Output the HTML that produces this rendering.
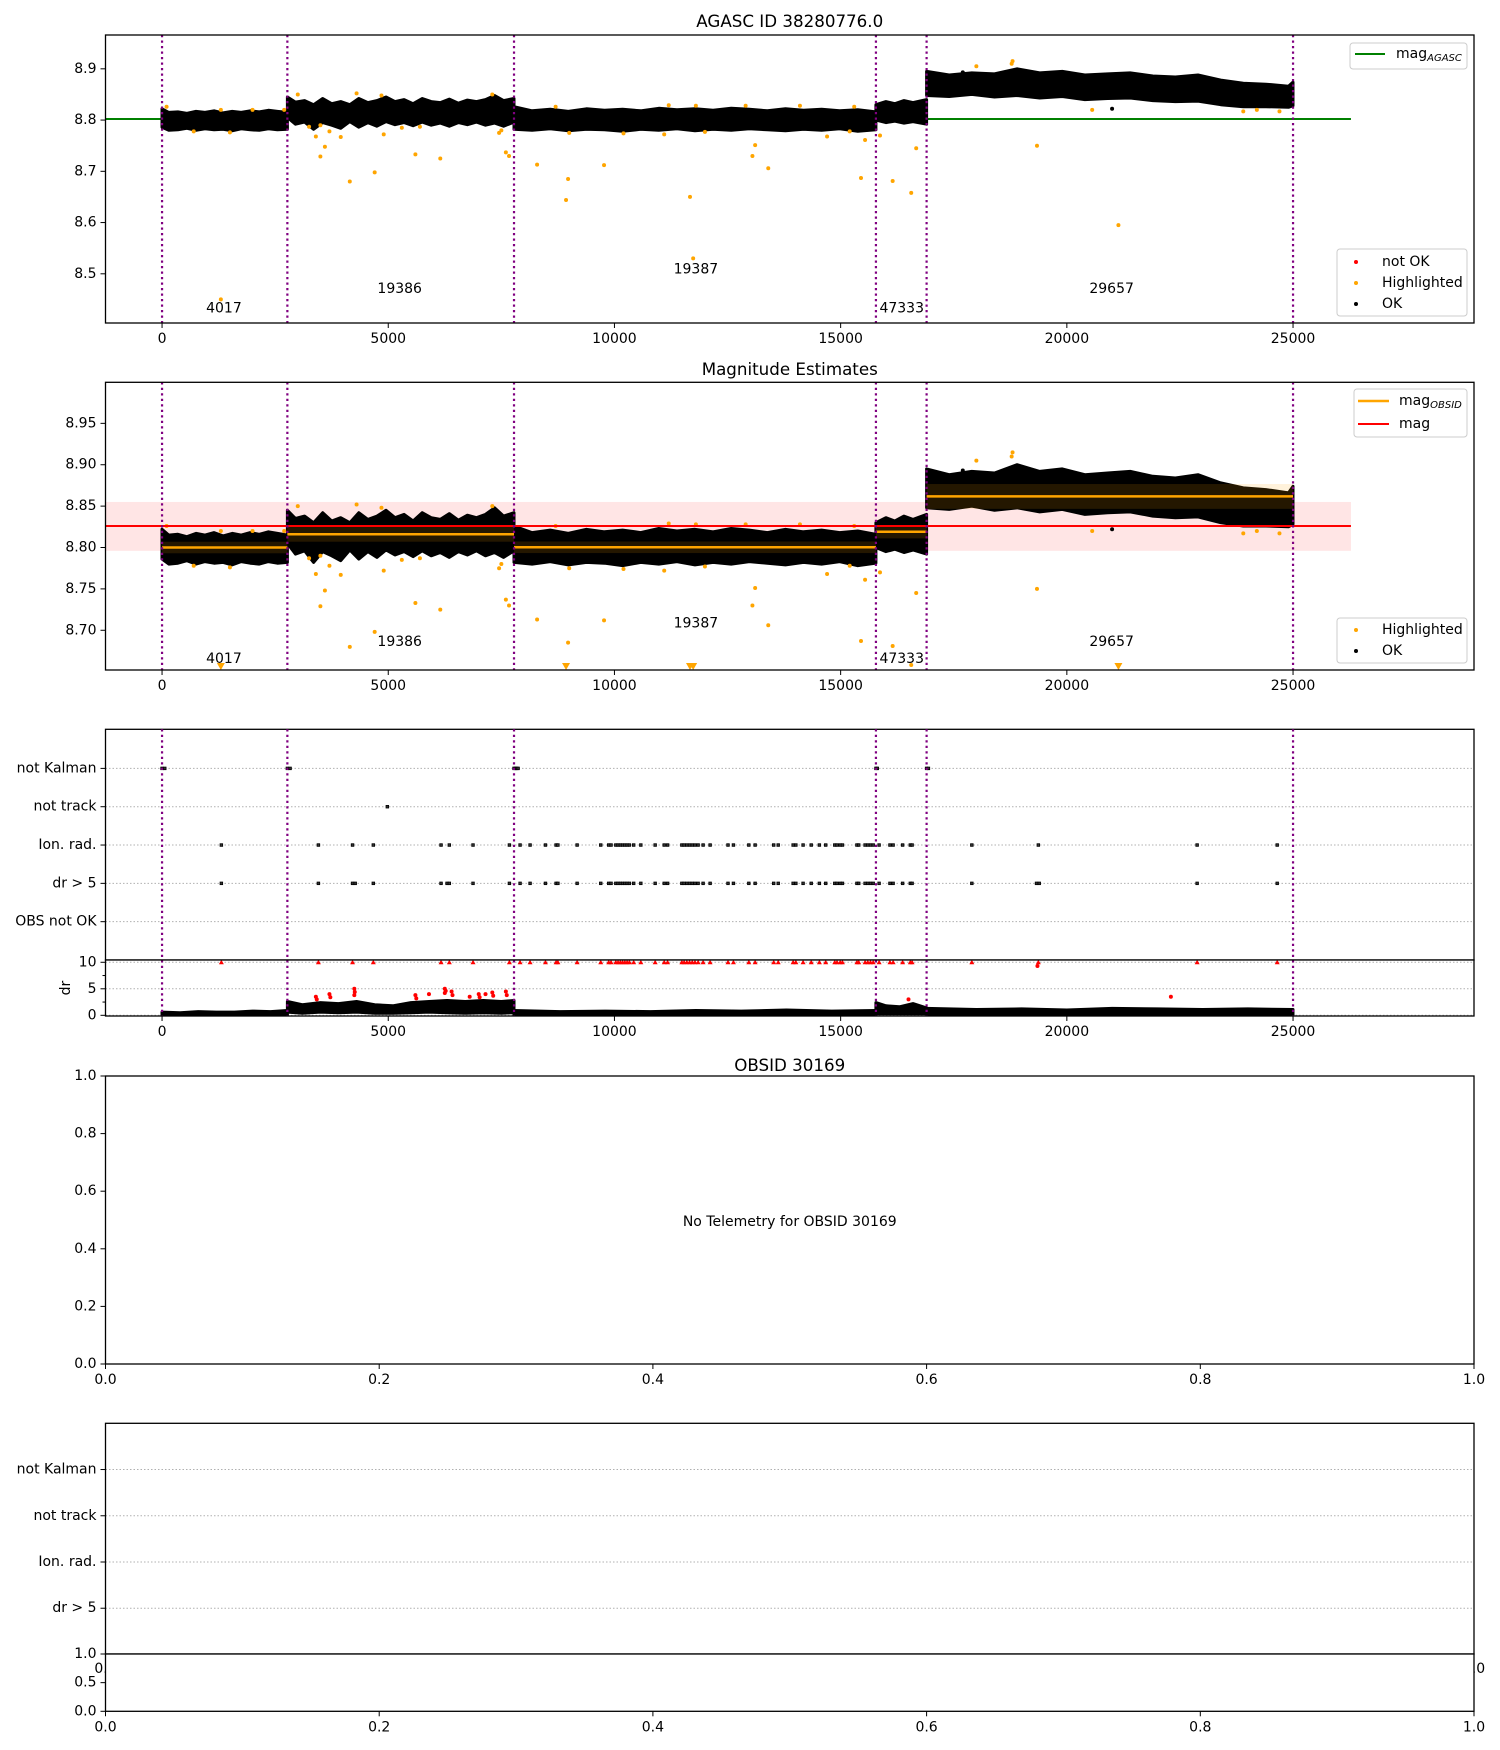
<!DOCTYPE html>
<html><head><meta charset="utf-8">
<style>
html,body{margin:0;padding:0;background:#fff;}
svg{display:block;font-family:"DejaVu Sans","Liberation Sans",sans-serif;}
</style></head>
<body>
<svg id="fig" xmlns="http://www.w3.org/2000/svg" width="1500" height="1750" viewBox="0 0 1500 1750"></svg>
<script>
// ---------------- DATA ----------------
const obsBoundaries = [0, 2770, 7780, 15780, 16900, 25000];
const obsIds = ["4017","19386","19387","47333","29657"];
const obsLabelT = [1368, 5253, 11800, 16350, 20990];
const obsLabelMag1 = [8.432, 8.470, 8.508, 8.432, 8.470];
const obsLabelMag2 = [8.665, 8.686, 8.708, 8.665, 8.686];
const magAgasc = 8.802;
const magMean = 8.826;
const magBandLo = 8.796;
const magBandHi = 8.855;
const magObsid = [8.800, 8.816, 8.8003, 8.819, 8.8617];
const magObsidStd = [0.007, 0.009, 0.007, 0.008, 0.015];
const lineEndT = 26280;

const seg1T = [0,150,350,550,750,950,1150,1350,1550,1750,1950,2150,2350,2550,2770];
const seg1Hi = [8.822,8.815,8.816,8.813,8.817,8.815,8.818,8.814,8.817,8.815,8.818,8.816,8.819,8.817,8.815];
const seg1Lo = [8.786,8.780,8.781,8.784,8.780,8.783,8.781,8.782,8.779,8.783,8.781,8.780,8.783,8.781,8.782];
const seg2T = [2770,2950,3150,3350,3550,3750,3950,4150,4350,4550,4750,4950,5150,5350,5550,5750,5950,6150,6350,6550,6750,6950,7150,7350,7550,7780];
const seg2Hi = [8.845,8.835,8.838,8.830,8.842,8.832,8.836,8.830,8.842,8.834,8.838,8.845,8.836,8.840,8.832,8.842,8.836,8.834,8.841,8.833,8.839,8.836,8.840,8.848,8.838,8.842];
const seg2Lo = [8.805,8.792,8.796,8.782,8.795,8.790,8.784,8.797,8.786,8.795,8.788,8.797,8.791,8.795,8.789,8.796,8.790,8.794,8.788,8.795,8.791,8.796,8.790,8.794,8.788,8.796];
const seg3T = [7780,8180,8580,8980,9380,9780,10180,10580,10980,11380,11780,12180,12580,12980,13380,13780,14180,14580,14980,15380,15780];
const seg3Hi = [8.826,8.818,8.821,8.817,8.822,8.819,8.821,8.818,8.823,8.820,8.822,8.819,8.823,8.821,8.818,8.822,8.819,8.821,8.818,8.820,8.816];
const seg3Lo = [8.782,8.780,8.783,8.779,8.782,8.781,8.778,8.782,8.780,8.783,8.779,8.782,8.780,8.783,8.781,8.779,8.782,8.780,8.783,8.778,8.781];
const seg4T = [15780,16000,16200,16400,16600,16900];
const seg4Hi = [8.830,8.836,8.832,8.838,8.834,8.840];
const seg4Lo = [8.800,8.795,8.798,8.794,8.797,8.792];
const seg5T = [16900,17400,17900,18400,18900,19400,19900,20400,20900,21400,21900,22400,22900,23400,23900,24400,24900,25000];
const seg5Hi = [8.895,8.888,8.892,8.890,8.900,8.892,8.895,8.888,8.890,8.892,8.886,8.884,8.888,8.878,8.872,8.870,8.866,8.874];
const seg5Lo = [8.848,8.846,8.850,8.845,8.848,8.843,8.846,8.840,8.842,8.843,8.838,8.836,8.837,8.830,8.826,8.826,8.825,8.828];

const hiT = [100,1300,1300,2000,2700,700,1500,3000,3500,3400,3600,3500,3700,4150,4700,4900,5600,6150,3950,4300,4850,5300,5700,7300,7600,7500,3250,
 8290,8975,8930,9770,11670,11740,13050,13110,13400,15450,15540,7450,7670,16150,16560,16670,15870,19340,21140,20560,18800,
 9000,10200,11100,12000,14700,15200,11800,11200,12900,14100,15300,8700,18000,23900,24700,24200,18780];
const hiMag = [8.826,8.450,8.820,8.820,8.820,8.778,8.776,8.850,8.790,8.768,8.748,8.729,8.778,8.680,8.698,8.772,8.733,8.725,8.767,8.852,8.848,8.785,8.787,8.850,8.737,8.780,8.787,
 8.713,8.685,8.644,8.712,8.650,8.530,8.730,8.751,8.706,8.687,8.761,8.775,8.730,8.681,8.658,8.745,8.770,8.750,8.595,8.820,8.915,
 8.775,8.774,8.772,8.777,8.768,8.778,8.828,8.829,8.828,8.828,8.826,8.826,8.905,8.817,8.817,8.820,8.910];
const okT = [21000, 23700, 23800, 17700];
const okMag = [8.822, 8.858, 8.860, 8.893];

const flagCats = ["not Kalman","not track","Ion. rad.","dr > 5","OBS not OK"];
const notKalmanT = [0,60,2770,2830,7780,7810,7840,7870,15780,15810,16900,16940];
const notTrackT = [4980];
const ionRadT = [1311,3456,4211,4670,6167,6350,6874,7678,7914,8135,8475,8710,8750,9175,9697,9873,9925,10030,10080,10130,10180,10230,10280,10330,10425,10583,10900,11100,11175,11490,11540,11600,11660,11720,11780,11850,11960,12115,12510,12630,12970,13110,13520,13620,13950,14010,14170,14350,14530,14670,14870,14920,14990,15040,15360,15400,15540,15600,15660,15720,15850,16090,16160,16370,16540,16580,17900,19370,22880,24650];
const drGt5T = [1311,3456,4211,4270,4670,6167,6300,6350,6874,7678,7914,8135,8475,8710,8750,9175,9697,9873,9925,10030,10080,10130,10180,10230,10280,10330,10425,10583,10900,11100,11175,11490,11540,11600,11660,11720,11780,11850,11960,12115,12510,12630,12970,13110,13520,13620,13950,14010,14170,14350,14530,14670,14870,14920,14990,15040,15360,15400,15540,15600,15660,15720,15850,16090,16160,16370,16540,16580,17900,19330,19390,22880,24650];

const dr1T = [0,400,800,1200,1600,2000,2400,2770];
const dr1Hi = [0.6,0.5,0.7,0.6,0.6,0.8,0.7,0.9];
const dr1Lo = [0.05,0.05,0.05,0.05,0.05,0.05,0.05,0.05];
const dr2T = [2770,3100,3500,3900,4300,4700,5100,5500,5900,6300,6700,7100,7500,7780];
const dr2Hi = [2.6,2.0,2.4,2.2,2.6,2.0,1.8,2.4,2.6,2.8,2.6,2.8,2.6,2.8];
const dr2Lo = [0.6,0.4,0.6,0.5,0.6,0.4,0.4,0.5,0.6,0.5,0.4,0.5,0.4,0.5];
const dr3T = [7780,8800,9800,10800,11800,12800,13800,14800,15780];
const dr3Hi = [0.9,0.7,0.8,0.7,0.9,0.8,1.0,0.8,0.9];
const dr3Lo = [0.1,0.1,0.1,0.1,0.1,0.1,0.1,0.1,0.1];
const dr4T = [15780,16000,16300,16600,16900];
const dr4Hi = [2.4,1.8,1.6,2.2,1.4];
const dr4Lo = [0.3,0.3,0.3,0.3,0.3];
const dr5T = [16900,18000,19000,20000,21000,22000,23000,24000,25000];
const dr5Hi = [1.3,1.1,1.2,1.0,1.3,1.2,1.1,1.2,1.1];
const dr5Lo = [0.2,0.2,0.2,0.2,0.2,0.2,0.2,0.2,0.1];
const drRedT = [3400,3420,3700,3720,4250,4250,4260,5600,5620,5900,6250,6250,6270,6400,6420,6800,7000,7020,7150,7300,7320,7600,7620,16500,22300,19350];
const drRedV = [3.5,3.0,4.0,3.4,5.0,3.8,4.4,3.8,3.2,4.0,5.0,4.2,4.6,4.5,3.8,3.5,4.0,3.4,4.0,4.3,3.7,4.5,3.8,3.0,3.5,9.3];
const drRedTopT = ionRadT;

const xTicksT = [0,5000,10000,15000,20000,25000];
const p1Ticks = [8.5,8.6,8.7,8.8,8.9];
const p2Ticks = [8.70,8.75,8.80,8.85,8.90,8.95];
const drTicks = [0,5,10];
const unitTicks = [0,0.2,0.4,0.6,0.8,1.0];
const halfTicks = [0,0.5,1.0];

// ---------------- DRAWING ----------------
const NS = "http://www.w3.org/2000/svg";
const svg = document.getElementById("fig");
const L = 105.5, R = 1474, X0 = -1250, X1 = 29000;
function sx(t){ return L + (t - X0) / (X1 - X0) * (R - L); }
function lin(d0,d1,r0,r1){ return v => r0 + (v - d0) / (d1 - d0) * (r1 - r0); }

function mk(tag, attrs, name, parent){
  const el = document.createElementNS(NS, tag);
  for (const k in attrs) el.setAttribute(k, attrs[k]);
  
  
  (parent || svg).appendChild(el);
  return el;
}
function txt(x,y,s,name,opts){
  opts = opts || {};
  const el = mk("text",{x:x,y:y,"font-size":opts.size||14,"text-anchor":opts.anchor||"middle","dominant-baseline":"central",fill:"#000"},name,opts.parent);
  if (opts.rot) el.setAttribute("transform","rotate(-90 "+x+" "+y+")");
  el.textContent = s;
  return el;
}
function frame(T,B,name){
  mk("rect",{x:L,y:T,width:R-L,height:B-T,fill:"#fff",stroke:"none"},name+"-background");
}
function border(T,B,name){
  mk("rect",{x:L,y:T,width:R-L,height:B-T,fill:"none",stroke:"#000","stroke-width":1.3},name);
}
function xticks(B, ts, fx, labels, name){
  ts.forEach((t,i)=>{
    const x = fx(t);
    mk("line",{x1:x,y1:B,x2:x,y2:B+5,stroke:"#000","stroke-width":1},name+"-tick");
    txt(x,B+16,labels[i],name+"-label");
  });
}
function yticks(vals, fy, labels, name){
  vals.forEach((v,i)=>{
    const y = fy(v);
    mk("line",{x1:L-5,y1:y,x2:L,y2:y,stroke:"#000","stroke-width":1},name+"-tick");
    txt(L-9,y,labels[i],name+"-label",{anchor:"end"});
  });
}
function vlines(T,B,name){
  obsBoundaries.forEach(t=>{
    const x = sx(t);
    mk("line",{x1:x,y1:T,x2:x,y2:B,stroke:"#800080","stroke-width":2.2,"stroke-dasharray":"2.2,3.3"},name);
  });
}
function band(ts,lo,hi,fy,name,color){
  let d = "M";
  ts.forEach((t,i)=>{ d += (i?" L":"") + sx(t).toFixed(1)+","+fy(hi[i]).toFixed(1); });
  for (let i=ts.length-1;i>=0;i--) d += " L"+sx(ts[i]).toFixed(1)+","+fy(lo[i]).toFixed(1);
  d += " Z";
  mk("path",{d:d,fill:color||"#000",stroke:color||"#000","stroke-width":3,"stroke-linejoin":"round"},name);
}
const segs = [[seg1T,seg1Lo,seg1Hi],[seg2T,seg2Lo,seg2Hi],[seg3T,seg3Lo,seg3Hi],[seg4T,seg4Lo,seg4Hi],[seg5T,seg5Lo,seg5Hi]];
const drSegs = [[dr1T,dr1Lo,dr1Hi],[dr2T,dr2Lo,dr2Hi],[dr3T,dr3Lo,dr3Hi],[dr4T,dr4Lo,dr4Hi],[dr5T,dr5Lo,dr5Hi]];

// ===== Panel 1 =====
(function(){
  const T=35,B=323; const fy = lin(8.404,8.966,B,T);
  frame(T,B,"agasc-panel");
  txt((L+R)/2,21,"AGASC ID 38280776.0","agasc-title",{size:16.7});
  mk("line",{x1:L,y1:fy(magAgasc),x2:sx(lineEndT),y2:fy(magAgasc),stroke:"#008000","stroke-width":2},"mag-agasc-line");
  segs.forEach((s,i)=>band(s[0],s[1],s[2],fy,"ok-points-band-"+obsIds[i]));
  okT.forEach((t,i)=>mk("circle",{cx:sx(t),cy:fy(okMag[i]),r:2,fill:"#000"},"ok-point"));
  hiT.forEach((t,i)=>mk("circle",{cx:sx(t),cy:fy(hiMag[i]),r:2,fill:"#ffa500"},"highlighted-point"));
  vlines(T,B,"obsid-boundary");
  obsIds.forEach((s,i)=>txt(sx(obsLabelT[i]),fy(obsLabelMag1[i]),s,"obsid-label"));
  xticks(B,xTicksT,sx,xTicksT.map(String),"x-tick");
  yticks(p1Ticks,fy,p1Ticks.map(v=>v.toFixed(1)),"y-tick");
  mk("rect",{x:1350,y:43,width:117,height:26,rx:3,fill:"#fff",stroke:"#ccc","stroke-width":1},"legend-agasc-box");
  mk("line",{x1:1355,y1:54,x2:1385,y2:54,stroke:"#008000","stroke-width":2},"legend-agasc-line");
  const t1 = txt(1396,54,"mag","legend-agasc-text",{anchor:"start"});
  const sub = mk("tspan",{"font-size":10,"font-style":"italic",dy:4},"legend-agasc-subscript",t1); sub.textContent="AGASC";
  mk("rect",{x:1337,y:249,width:130,height:67,rx:3,fill:"#fff",stroke:"#ccc","stroke-width":1},"legend-points-box");
  [["not OK","#ff0000",262],["Highlighted","#ffa500",283],["OK","#000",304]].forEach(e=>{
    mk("circle",{cx:1356,cy:e[2],r:2,fill:e[1]},"legend-marker");
    txt(1382,e[2],e[0],"legend-text",{anchor:"start"});
  });
  border(T,B,"agasc-axes-frame");
})();

// ===== Panel 2 =====
(function(){
  const T=382.3,B=670; const fy = lin(8.652,8.9996,B,T);
  frame(T,B,"mag-estimates-panel");
  txt((L+R)/2,369,"Magnitude Estimates","mag-estimates-title",{size:16.7});
  mk("rect",{x:L,y:fy(magBandHi),width:sx(lineEndT)-L,height:fy(magBandLo)-fy(magBandHi),fill:"#ff0000","fill-opacity":0.1},"mag-std-band");
  segs.forEach((s,i)=>band(s[0],s[1],s[2],fy,"ok-points-band-"+obsIds[i]));
  okT.forEach((t,i)=>mk("circle",{cx:sx(t),cy:fy(okMag[i]),r:2,fill:"#000"},"ok-point"));
  segs.forEach((s,i)=>{
    const x0=sx(obsBoundaries[i]), x1=sx(obsBoundaries[i+1]);
    mk("rect",{x:x0,y:fy(magObsid[i]+magObsidStd[i]),width:x1-x0,height:fy(magObsid[i]-magObsidStd[i])-fy(magObsid[i]+magObsidStd[i]),fill:"#ffa500","fill-opacity":0.14},"mag-obsid-band");
    mk("line",{x1:x0,y1:fy(magObsid[i]),x2:x1,y2:fy(magObsid[i]),stroke:"#ffa500","stroke-width":2.5},"mag-obsid-line");
  });
  hiT.forEach((t,i)=>{
    if (hiMag[i] < 8.652){
      const x=sx(t), y=B;
      mk("path",{d:"M"+(x-4)+","+(y-7)+" L"+(x+4)+","+(y-7)+" L"+x+","+y+" Z",fill:"#ffa500"},"highlighted-offscale-marker");
    } else mk("circle",{cx:sx(t),cy:fy(hiMag[i]),r:2,fill:"#ffa500"},"highlighted-point");
  });
  mk("line",{x1:L,y1:fy(magMean),x2:sx(lineEndT),y2:fy(magMean),stroke:"#ff0000","stroke-width":2},"mag-mean-line");
  vlines(T,B,"obsid-boundary");
  obsIds.forEach((s,i)=>txt(sx(obsLabelT[i]),fy(obsLabelMag2[i]),s,"obsid-label"));
  xticks(B,xTicksT,sx,xTicksT.map(String),"x-tick");
  yticks(p2Ticks,fy,p2Ticks.map(v=>v.toFixed(2)),"y-tick");
  mk("rect",{x:1354,y:389,width:113,height:48,rx:3,fill:"#fff",stroke:"#ccc","stroke-width":1},"legend-mag-box");
  mk("line",{x1:1358,y1:401,x2:1389,y2:401,stroke:"#ffa500","stroke-width":2.5},"legend-obsid-line");
  const t1 = txt(1399,401,"mag","legend-obsid-text",{anchor:"start"});
  const sub = mk("tspan",{"font-size":10,"font-style":"italic",dy:4},"legend-obsid-subscript",t1); sub.textContent="OBSID";
  mk("line",{x1:1358,y1:424,x2:1389,y2:424,stroke:"#ff0000","stroke-width":2},"legend-mag-line");
  txt(1399,424,"mag","legend-mag-text",{anchor:"start"});
  mk("rect",{x:1337,y:618,width:130,height:45,rx:3,fill:"#fff",stroke:"#ccc","stroke-width":1},"legend-points-box");
  [["Highlighted","#ffa500",630],["OK","#000",651]].forEach(e=>{
    mk("circle",{cx:1356,cy:e[2],r:2,fill:e[1]},"legend-marker");
    txt(1382,e[2],e[0],"legend-text",{anchor:"start"});
  });
  border(T,B,"mag-estimates-axes-frame");
})();

// ===== Panel 3 =====
(function(){
  const T=729.3,B=960; const fy = lin(-1.02,5.0,T,B);
  frame(T,B,"flags-panel");
  flagCats.forEach((c,i)=>mk("line",{x1:L,y1:fy(i),x2:R,y2:fy(i),stroke:"#b0b0b0","stroke-width":1,"stroke-dasharray":"1.5,2"},"flag-gridline"));
  const flagSets=[notKalmanT,notTrackT,ionRadT,drGt5T];
  flagSets.forEach((arr,i)=>arr.forEach(t=>mk("rect",{x:sx(t)-1.3,y:fy(i)-1.3,width:2.6,height:2.6,fill:"#333",stroke:"#000","stroke-width":0.8},"flag-marker")));
  yticks([0,1,2,3,4],fy,flagCats,"flag-category");
  border(T,B,"flags-axes-frame");
  const T2=960,B2=1016; const fd = lin(-0.13,10.43,B2,T2);
  frame(T2,B2,"dr-panel");
  drTicks.forEach(v=>mk("line",{x1:L,y1:fd(v),x2:R,y2:fd(v),stroke:"#b0b0b0","stroke-width":1,"stroke-dasharray":"1.5,2"},"dr-gridline"));
  drSegs.forEach((s,i)=>band(s[0],s[1],s[2],fd,"dr-trace-"+obsIds[i]));
  drRedT.forEach((t,i)=>mk("circle",{cx:sx(t),cy:fd(drRedV[i]),r:2,fill:"#ff0000"},"dr-not-ok-point"));
  drRedTopT.forEach(t=>{const x=sx(t),y=fd(10);mk("path",{d:"M"+(x-2.5)+","+(y+2)+" L"+(x+2.5)+","+(y+2)+" L"+x+","+(y-2.5)+" Z",fill:"#ff0000"},"dr-clipped-marker");});
  vlines(T,B2,"obsid-boundary");
  [2.5,7.5].forEach(v=>mk("line",{x1:L-3,y1:fd(v),x2:L,y2:fd(v),stroke:"#000","stroke-width":1},"dr-minor-tick"));
  yticks(drTicks,fd,drTicks.map(String),"dr-tick");
  txt(66,988,"dr","dr-axis-title",{rot:true});
  xticks(B2,xTicksT,sx,xTicksT.map(String),"x-tick");
  border(T2,B2,"dr-axes-frame");
})();

// ===== Panel 4 =====
(function(){
  const T=1076,B=1364; const fy = lin(0,1,B,T); const fx = lin(0,1,L,R);
  frame(T,B,"obsid-panel");
  txt((L+R)/2,1065,"OBSID 30169","obsid-title",{size:16.7});
  txt((L+R)/2,1222,"No Telemetry for OBSID 30169","no-telemetry-message");
  xticks(B,unitTicks,fx,unitTicks.map(v=>v.toFixed(1)),"x-tick");
  yticks(unitTicks,fy,unitTicks.map(v=>v.toFixed(1)),"y-tick");
  border(T,B,"obsid-axes-frame");
})();

// ===== Panel 5 =====
(function(){
  const T=1423.3,B=1654; const fy = lin(-1,3.99,T,B); const fx = lin(0,1,L,R);
  frame(T,B,"obsid-flags-panel");
  flagCats.slice(0,4).forEach((c,i)=>mk("line",{x1:L,y1:fy(i),x2:R,y2:fy(i),stroke:"#b0b0b0","stroke-width":1,"stroke-dasharray":"1.5,2"},"flag-gridline"));
  yticks([0,1,2,3],fy,flagCats.slice(0,4),"flag-category");
  unitTicks.forEach(v=>txt(fx(v),1669,v.toFixed(1),"hidden-x-tick-label"));
  border(T,B,"obsid-flags-axes-frame");
  const T2=1654,B2=1711.3; const fd = lin(0,1,B2,T2);
  frame(T2,B2,"obsid-dr-panel");
  yticks(halfTicks,fd,halfTicks.map(v=>v.toFixed(1)),"y-tick");
  xticks(B2,unitTicks,fx,unitTicks.map(v=>v.toFixed(1)),"x-tick");
  border(T2,B2,"obsid-dr-axes-frame");
})();
</script>
</body></html>
